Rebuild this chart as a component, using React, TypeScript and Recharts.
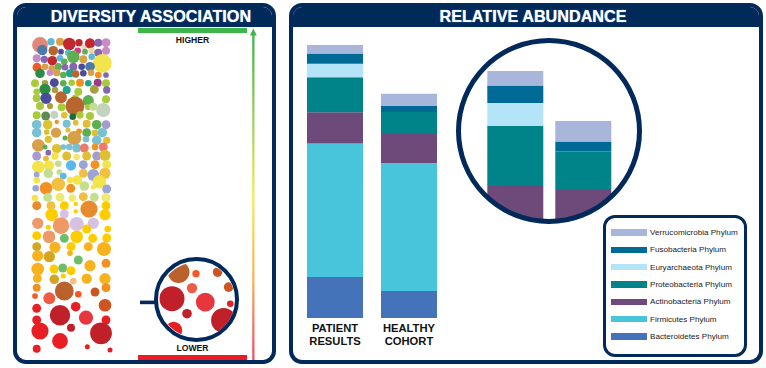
import React from "react";
import { BarChart, Bar, XAxis, YAxis, Legend, ScatterChart, Scatter } from "recharts";

const NAVY = "#012a5b";
const FONT = '"Liberation Sans", Arial, Helvetica, sans-serif';

// relative abundance, in % of the patient bar
const categories = ["PATIENT RESULTS", "HEALTHY COHORT"];
const bacteroidetes = [15.0, 9.9];
const firmicutes = [48.9, 46.9];
const actinobacteria = [11.5, 10.6];
const proteobacteria = [12.8, 8.1];
const euryarchaeota = [4.9, 0];
const fusobacteria = [3.8, 2.2];
const verrucomicrobia = [3.1, 4.4];

const SERIES = [
  { key: "bacteroidetes", name: "Bacteroidetes Phylum", color: "#4573ba", values: bacteroidetes },
  { key: "firmicutes", name: "Firmicutes Phylum", color: "#48c4db", values: firmicutes },
  { key: "actinobacteria", name: "Actinobacteria Phylum", color: "#6d4a7a", values: actinobacteria },
  { key: "proteobacteria", name: "Proteobacteria Phylum", color: "#00848a", values: proteobacteria },
  { key: "euryarchaeota", name: "Euryarchaeota Phylum", color: "#b4e4f8", values: euryarchaeota },
  { key: "fusobacteria", name: "Fusobacteria Phylum", color: "#006a97", values: fusobacteria },
  { key: "verrucomicrobia", name: "Verrucomicrobia Phylum", color: "#a9b6db", values: verrucomicrobia },
];
// the magnified view only shows the upper part of the stacks
const INSET_KEYS = ["actinobacteria", "proteobacteria", "euryarchaeota", "fusobacteria", "verrucomicrobia"];

const barData = categories.map((c, i) => {
  const row: any = { name: c };
  SERIES.forEach((s) => (row[s.key] = s.values[i]));
  return row;
});

// diversity bubbles: [x, y, size, colour]
const bubbles: [number, number, number, string][] = [
  [40, 45, 6.7, "sal"], [42.3, 50, 4.3, "stb"], [51, 41.7, 3, "cy"], [60, 41.7, 3.3, "tan"], [69.3, 44, 5.3, "rd"],
  [79, 42.7, 3, "rd"], [84, 47.3, 2, "cr"], [90, 43.3, 4.3, "rd"], [98.3, 42.7, 3.3, "pu"], [106, 42.7, 3.7, "pk"],
  [53.3, 50.7, 4, "br"], [61, 51.7, 2.3, "nv"], [68.3, 52.7, 2.7, "cy"], [77.7, 50.7, 2.7, "mg"], [85, 51.7, 2.3, "gn"],
  [91.7, 50.7, 2.7, "cr"], [98.3, 52.7, 3.3, "pu"], [106, 50.7, 3.3, "pk"],
  [36.7, 58.3, 3.3, "pk"], [44.3, 59.3, 3, "pu"], [52.3, 60.7, 4, "rd"], [60, 58.3, 2.7, "cy"], [64.3, 61.7, 2.7, "gn"],
  [73.3, 56.7, 5.3, "gn"], [83.3, 59.3, 3.3, "tan"], [91.7, 56.7, 2.7, "cy"], [102.3, 63.3, 8, "yl"],
  [37, 67.3, 3.7, "or"], [45, 66.7, 2.7, "tan"], [51.7, 68.3, 2.7, "tan"], [58.3, 66.7, 3, "gn"], [65, 67.3, 2.7, "pu"],
  [73.3, 66.7, 3.3, "pu"], [81.7, 66.7, 2.7, "nv"], [90, 66.7, 4, "stb"],
  [40, 73.3, 4, "dg"], [50, 72.7, 2.7, "pk"], [56.7, 72.7, 3, "tan"], [63.3, 75, 2.7, "gn"], [70, 73.3, 3.3, "tl"],
  [75.7, 74, 3, "br"], [83.3, 73.3, 2.7, "nv"], [91, 72.7, 2.7, "tan"], [98.3, 75, 2.7, "oa"], [106, 75, 2.3, "pu"],
  [35, 83.3, 3.3, "yg"], [45, 83.3, 2.7, "ol"], [54.3, 82.7, 3.7, "nv"], [63.3, 83.3, 2.7, "gn"], [71.7, 82.7, 2.7, "yg"],
  [80, 82.7, 3.3, "oa"], [88.3, 83.3, 2.7, "tl"], [97.7, 82.7, 3.3, "mp"], [106, 83.3, 3.3, "yg"],
  [36.7, 91.7, 2.7, "yg"], [45, 89.3, 4.7, "dg"], [55, 90, 2.7, "ol"], [66.7, 90, 3.3, "tl"], [78.3, 91.7, 3.3, "yg"],
  [94.3, 89.3, 3.7, "ol"], [106.7, 90, 3, "pu"],
  [36.7, 98.3, 3.3, "yg"], [46, 98.3, 4.7, "nv"], [61, 97.3, 5, "br"], [75, 98.3, 3, "yg"], [88.3, 100.7, 4.7, "gn"],
  [106, 99.3, 3.3, "yg"],
  [40, 106, 3.3, "yg"], [50, 106, 2.5, "ol"], [61.7, 107.3, 3.3, "yg"], [75, 106, 8, "br"], [88, 107, 2.5, "yg"],
  [93.3, 106.7, 3.3, "lgn"], [103.3, 110, 6, "pg"],
  [36.7, 115.3, 3.3, "yg"], [45.7, 116, 3.7, "og"], [54.3, 114.7, 3.3, "pg"], [64.3, 115.3, 2.7, "mu"], [72.7, 116.7, 2.7, "dkg"],
  [80, 115, 3, "yg"], [90, 116, 3.3, "yg"],
  [36.7, 124.7, 4, "lb"], [47.7, 124.7, 4, "mu"], [56.7, 122, 1.7, "oa"], [66.7, 123.7, 3.3, "lb"], [75.7, 122.7, 2.3, "mu"],
  [86.7, 123.7, 3.3, "mu"], [96.7, 124.7, 4, "gn"], [106, 124.7, 3.7, "lv"],
  [36.7, 132.7, 4, "lb"], [46.7, 132, 2.3, "mu"], [56, 132.7, 4.3, "tan"], [68, 130, 2, "mu"], [79, 131.3, 2.3, "oa"],
  [86.7, 132.7, 3.7, "gn"], [95, 133, 2.7, "mu"], [102.3, 132.7, 4, "lb"],
  [38.3, 145.3, 5.3, "tan"], [48.3, 139.3, 3, "mu"], [65, 138, 2, "gn"], [74.3, 138, 6, "tan"], [86, 139.3, 2.7, "lb"],
  [96.7, 140.3, 4, "lb"], [106.7, 140.3, 3, "mu"],
  [45, 147, 2, "gn"], [56.7, 148.7, 4, "mu"], [63.3, 147, 2.3, "lb"], [69.3, 147, 2.7, "lb"], [76.7, 148, 3.7, "lb"],
  [84.3, 148, 3.7, "sr"], [95, 147, 2.7, "oa"], [103.3, 147, 3.7, "sr"],
  [36.7, 156, 3.7, "lv"], [48.3, 152.7, 2.3, "pu"], [46, 158.5, 2.3, "mu"], [55, 156, 3, "yl"], [66.7, 156, 3.7, "mu"],
  [76.7, 157, 2.7, "py"], [86.7, 156, 3.7, "mu"], [96.7, 156, 3.7, "lv"], [105, 155.3, 4.7, "mu"],
  [38.3, 167, 5.3, "yl"], [49, 165.3, 4.3, "yl"], [58.3, 163.7, 2.7, "lgn"], [71, 165.3, 4.3, "sb"], [83.3, 164.7, 3.7, "pb"],
  [95, 164.7, 3.7, "oa"], [106.7, 164.7, 3.7, "yl"],
  [36.7, 174.7, 2.3, "pb"], [48.3, 173.3, 4, "lgn"], [59.3, 172, 2.3, "lgn"], [63.3, 176, 2.7, "sb"], [70, 180, 2.7, "yl"],
  [77.3, 180, 4, "yl"], [83.3, 173.3, 3.7, "lo"], [93.3, 175, 5, "pb"], [105, 173.3, 4.7, "lo"],
  [36.7, 180.3, 2.7, "yl"], [35.7, 188.3, 2.7, "pb"], [46, 188.3, 5.3, "oa"], [58.3, 184.3, 5.7, "lo"], [70.7, 188.3, 3.7, "oa"],
  [84.3, 186, 4, "lgn"], [93.3, 187, 2, "yl"], [99.3, 181.7, 5.7, "yl"], [106.7, 189, 3.7, "pb"],
  [35, 198, 2.7, "yl"], [47.7, 197.3, 3.7, "lgn"], [60, 197.3, 3.7, "py"], [72.3, 198, 3, "py"], [83.3, 196.7, 3.7, "lo"],
  [94.3, 197.3, 3.7, "lgn"], [106, 197.3, 3.7, "py"],
  [36.7, 205.7, 3.7, "oa2"], [51, 205.7, 3.7, "lo"], [64.3, 205.7, 3.7, "ye"], [75.7, 204, 1.7, "ye"], [75.7, 211.3, 1.7, "ye"],
  [89, 209, 7.3, "oa2"], [106, 205.7, 3.7, "ye"],
  [51.7, 214.7, 5.3, "ye"], [64.3, 214, 3.7, "lil"], [105, 214.7, 4.7, "ye"],
  [37.7, 223.3, 4.7, "pc"], [48.3, 227.3, 2, "ye"], [61, 225.7, 7, "pc"], [76.7, 224, 6, "lil"], [93.3, 223.3, 4.7, "lil"],
  [86.7, 229, 3.7, "ye"], [107.7, 229, 2.7, "ye"],
  [36.7, 235.7, 3.7, "ye"], [49, 236.7, 5.3, "pc"], [64.3, 238.3, 3.7, "gr"], [76.7, 236.7, 5.3, "ye"], [92.7, 238.3, 3.7, "ye"],
  [106.7, 238, 3.7, "ye"],
  [36.7, 246.7, 3.7, "dm"], [55, 247.3, 4.7, "am"], [71, 246.7, 3.7, "ye"], [88.3, 246.7, 3.7, "am"], [104, 249, 6, "am"],
  [37.7, 255.7, 4.7, "am"], [49.3, 256.7, 4.7, "dm"], [70, 253.3, 2.3, "am"], [78.3, 260, 3.7, "gr"], [90, 265.7, 4.7, "am"],
  [106, 263.3, 3.7, "oa"],
  [37.7, 269, 5.3, "am"], [54, 269, 3.7, "ye"], [62.7, 268, 3.7, "gr"], [71, 270.7, 3.7, "ye"],
  [37.3, 278.3, 3.7, "am"], [54.3, 279.3, 4, "dm"], [63.3, 276, 2, "ye"], [73.3, 281, 2.7, "pp"], [86.7, 278.7, 4.3, "am"],
  [105, 278.7, 4.7, "am"],
  [36.7, 287.7, 3.3, "oa"], [64.3, 291, 8, "bo"], [78.3, 294.3, 2.7, "or"], [95, 292, 3.7, "ro"], [106, 287.7, 3.7, "oa"],
  [35, 296, 2.3, "or"], [49.3, 298.3, 5, "tm"], [105, 305.3, 5.3, "ro"],
  [36.7, 308.3, 3.7, "rr"], [60, 315.3, 8.7, "dr"], [75.7, 306.7, 4, "rr"], [86, 317.7, 6, "cp"],
  [36.7, 320, 3.7, "rr"], [106, 320, 3.7, "rr"],
  [40, 331, 7.3, "rr"], [71, 327.7, 3.3, "dr"], [101, 333.3, 9.3, "dr"],
  [60, 341, 6.7, "rr"], [36.7, 348.7, 3.3, "rr"], [87.3, 346.7, 2, "rr"], [110, 350, 2, "rr"],
];

// bubbles seen through the small magnifier
const lensBubbles: [number, number, number, string][] = [
  [178.3, 271.7, 9.3, "bo"], [195.7, 273.3, 3, "or"], [217.3, 271.7, 4, "ro"], [191.7, 287.7, 4.3, "tm"],
  [171.7, 298.3, 10.7, "dr"], [205, 301.7, 8, "cp"], [228.3, 286.7, 4, "ro"], [230, 303.3, 2.7, "rr"],
  [186.7, 313.3, 4, "dr"], [223.3, 320, 10.7, "dr"], [173.3, 330, 7.3, "rr"],
];

const BUBBLE_COLORS: Record<string, string> = {
  sal: "#e0877a", stb: "#4b7ba6", cy: "#5cb9d5", tan: "#d8a048", rd: "#c1272d", pu: "#8566b0", pk: "#c88cc4",
  br: "#b8652f", mg: "#e0338a", gn: "#5daf4f", yl: "#f2e44a", cr: "#e8d8a8", or: "#f05a28", dg: "#2d8b47",
  nv: "#4b4b9b", yg: "#a8cb3c", ol: "#a8a040", pg: "#c3d3be", tl: "#1fa58f", lb: "#78c0d2", lv: "#a69bd0",
  mu: "#e0c030", lgn: "#c3de90", sb: "#5bb8ea", oa: "#f39120", pb: "#9ba5d5", lo: "#f1c040", pc: "#ee9966",
  ye: "#ffcc00", am: "#f7b21e", dm: "#d4a520", lil: "#d8c0e0", gr: "#6dbe6a", rr: "#e81e25", dr: "#c0202a",
  cp: "#e8363e", tm: "#ee5a44", ro: "#cc5522", bo: "#ba612e", mp: "#9a3a8a", og: "#5b8c50", dkg: "#1b6b3a",
  sr: "#ee7b6a", py: "#f0e870", pp: "#f5c080", oa2: "#e88a2e",
};

const toPoints = (list: [number, number, number, string][]) => list.map(([x, y, r, c]) => ({ x, y, r, c }));

const Dot = (p: any) => (
  <circle cx={p.cx} cy={p.cy} r={p.payload.r * 1.15 + 0.2} fill={BUBBLE_COLORS[p.payload.c]} />
);

const CategoryTick = ({ x, y, payload }: any) => {
  const lines = String(payload.value).split(" ");
  return (
    <text x={x} y={y} textAnchor="middle" fontFamily={FONT} fontWeight={700} fontSize={11.2} fill="#111">
      {lines.map((l, i) => (
        <tspan key={i} x={x} dy={i === 0 ? 13.5 : 13.3}>
          {l}
        </tspan>
      ))}
    </text>
  );
};

const LegendBox = ({ payload }: any) => {
  const order = (e: any) => SERIES.findIndex((s) => s.key === e.dataKey);
  const items = [...(payload || [])].sort((a, b) => order(b) - order(a));
  return (
    <div
      style={{
        width: 144,
        height: 142,
        boxSizing: "border-box",
        border: `3px solid ${NAVY}`,
        borderRadius: 12,
        background: "#fff",
        paddingTop: 6,
        fontFamily: FONT,
      }}
    >
      {items.map((it: any) => (
        <div key={it.dataKey} style={{ display: "flex", alignItems: "center", height: 17.3 }}>
          <span style={{ width: 36, height: 6.5, background: it.color, marginLeft: 5, flexShrink: 0 }} />
          <span style={{ marginLeft: 3, fontSize: 8.1, color: "#1a1a1a", whiteSpace: "nowrap" }}>{it.value}</span>
        </div>
      ))}
    </div>
  );
};

const Panel = ({ left, width, title, titleX }: { left: number; width: number; title: string; titleX: number }) => (
  <div
    style={{
      position: "absolute",
      left,
      top: 3,
      width,
      height: 361,
      boxSizing: "border-box",
      border: `4.5px solid ${NAVY}`,
      borderRadius: 13,
      background: "#fff",
      overflow: "hidden",
    }}
  >
    <div style={{ position: "absolute", left: 0, right: 0, top: 0, height: 19.5, background: NAVY }} />
    <div
      style={{
        position: "absolute",
        left: titleX,
        top: 0,
        transform: "translateX(-50%)",
        color: "#fff",
        fontFamily: FONT,
        fontWeight: 700,
        fontSize: 16.2,
        lineHeight: "18px",
        whiteSpace: "nowrap",
        textShadow: "0 0 1px #9fd0ef",
      }}
    >
      {title}
    </div>
  </div>
);

export default function App() {
  return (
    <div style={{ position: "absolute", left: 0, top: 0, width: 766, height: 368, overflow: "hidden", background: "#fff" }}>
      <Panel left={13} width={263} title="DIVERSITY ASSOCIATION" titleX={134} />
      <Panel left={289} width={474} title="RELATIVE ABUNDANCE" titleX={240} />

      {/* diversity bubbles */}
      <div style={{ position: "absolute", left: 20, top: 30 }}>
        <ScatterChart width={100} height={330} margin={{ top: 0, right: 0, bottom: 0, left: 0 }}>
          <XAxis type="number" dataKey="x" domain={[20, 120]} hide />
          <YAxis type="number" dataKey="y" domain={[30, 360]} reversed hide />
          <Scatter data={toPoints(bubbles)} shape={Dot} isAnimationActive={false} />
        </ScatterChart>
      </div>

      {/* higher / lower scale */}
      <div style={{ position: "absolute", left: 138.3, top: 28.3, width: 108.4, height: 5, background: "#3db54a" }} />
      <div
        style={{
          position: "absolute", left: 192.5, top: 34.5, transform: "translateX(-50%)",
          fontFamily: FONT, fontWeight: 700, fontSize: 8.6, color: "#111", lineHeight: "10px",
        }}
      >
        HIGHER
      </div>
      <div
        style={{
          position: "absolute", left: 192.5, top: 343, transform: "translateX(-50%)",
          fontFamily: FONT, fontWeight: 700, fontSize: 8.6, color: "#111", lineHeight: "10px",
        }}
      >
        LOWER
      </div>
      <div style={{ position: "absolute", left: 138.3, top: 355, width: 108.4, height: 5, background: "#ed1c24" }} />
      <svg style={{ position: "absolute", left: 0, top: 0 }} width={766} height={368}>
        <defs>
          <linearGradient id="scaleGrad" x1="0" y1="0" x2="0" y2="1">
            <stop offset="0" stopColor="#3db54a" />
            <stop offset="0.25" stopColor="#9fcd62" />
            <stop offset="0.5" stopColor="#f3ec5c" />
            <stop offset="0.75" stopColor="#f5b45c" />
            <stop offset="1" stopColor="#e8506a" />
          </linearGradient>
        </defs>
        <rect x={252.2} y={34} width={2.3} height={326} fill="url(#scaleGrad)" />
        <path d="M253.35 28.5 L256.8 35.5 L249.9 35.5 Z" fill="#3db54a" />
        <rect x={140} y={300.6} width={16} height={3.6} fill={NAVY} />
      </svg>

      {/* small magnifier */}
      <div
        style={{
          position: "absolute", left: 158.7, top: 261.6, width: 76, height: 76,
          borderRadius: "50%", overflow: "hidden", background: "#fff",
        }}
      >
        <ScatterChart width={76} height={76} margin={{ top: 0, right: 0, bottom: 0, left: 0 }}>
          <XAxis type="number" dataKey="x" domain={[158.7, 234.7]} hide />
          <YAxis type="number" dataKey="y" domain={[261.6, 337.6]} reversed hide />
          <Scatter data={toPoints(lensBubbles)} shape={Dot} isAnimationActive={false} />
        </ScatterChart>
      </div>
      <div
        style={{
          position: "absolute", left: 154.4, top: 257.3, width: 84.6, height: 84.6,
          boxSizing: "border-box", border: `4.3px solid ${NAVY}`, borderRadius: "50%",
        }}
      />

      {/* relative abundance bars */}
      <div style={{ position: "absolute", left: 298, top: 40 }}>
        <BarChart width={148} height={320} data={barData} margin={{ top: 5, right: 0, bottom: 0, left: 0 }}>
          <XAxis dataKey="name" height={42} axisLine={false} tickLine={false} tickSize={0} tickMargin={0} tick={<CategoryTick />} interval={0} />
          <YAxis hide domain={[0, 100]} />
          {SERIES.map((s) => (
            <Bar key={s.key} dataKey={s.key} name={s.name} stackId="a" fill={s.color} barSize={56} isAnimationActive={false} />
          ))}
          <Legend
            layout="vertical"
            align="center"
            verticalAlign="middle"
            content={<LegendBox />}
            wrapperStyle={{ left: 305, top: 175, width: 144, height: 142 }}
          />
        </BarChart>
      </div>

      {/* large magnifier */}
      <div
        style={{
          position: "absolute", left: 459.7, top: 42, width: 178, height: 178,
          borderRadius: "50%", overflow: "hidden", background: "#fff",
        }}
      >
        <BarChart width={178} height={210} data={barData} margin={{ top: 11, right: 20.7, bottom: 13.8, left: 21.3 }}>
          <XAxis dataKey="name" hide />
          <YAxis hide domain={[0, 40]} />
          {SERIES.filter((s) => INSET_KEYS.includes(s.key)).map((s) => (
            <Bar key={s.key} dataKey={s.key} stackId="z" fill={s.color} barSize={56} isAnimationActive={false} />
          ))}
        </BarChart>
      </div>
      <div
        style={{
          position: "absolute", left: 455.7, top: 38, width: 186, height: 186,
          boxSizing: "border-box", border: `5px solid ${NAVY}`, borderRadius: "50%",
        }}
      />
    </div>
  );
}
